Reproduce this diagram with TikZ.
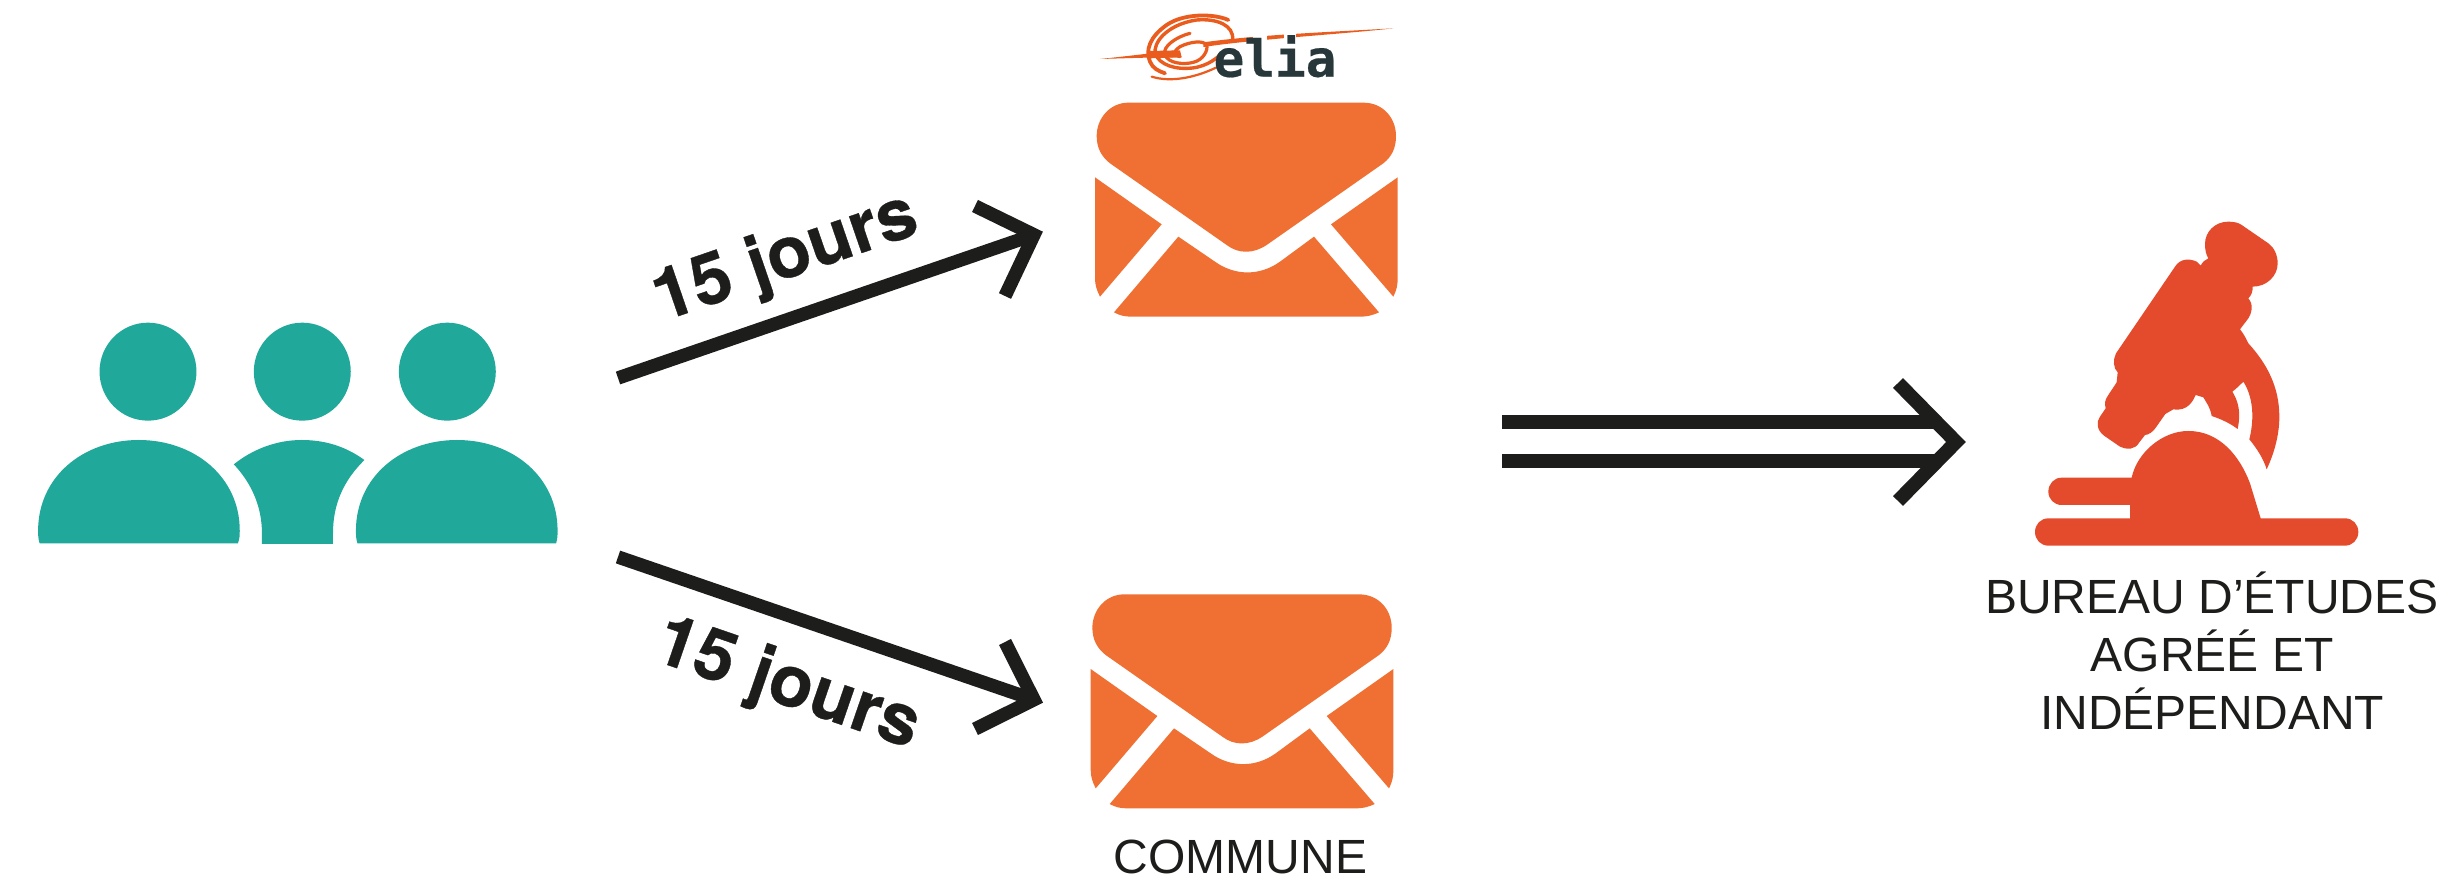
\documentclass[tikz,border=0pt]{standalone}
\usepackage{fontspec}
\setmainfont{Liberation Sans}
\newfontfamily\heavyfont[BoldFeatures={FakeBold=0.5}]{TeX Gyre Heros}
\newfontfamily\logofont[BoldFeatures={FakeBold=0.4}]{DejaVu Sans Mono}
\definecolor{teal1}{HTML}{20A99A}
\definecolor{envorange}{HTML}{F07033}
\definecolor{scopered}{HTML}{E44B2C}
\definecolor{inkblack}{HTML}{1D1D1B}
\definecolor{logodark}{HTML}{27373A}
\definecolor{logoorange}{HTML}{EA5B1E}
\newcommand{\envelopeicon}{%
  \fill[envorange] (235,308) -- (940,308) .. controls (1000,308) and (1038,355) .. (1038,408)
    .. controls (1038,445) and (1025,470) .. (1000,490) -- (650,735)
    .. controls (610,762) and (565,762) .. (530,735) -- (180,490)
    .. controls (155,470) and (140,445) .. (140,408) .. controls (140,355) and (180,308) .. (235,308) -- cycle;
  \fill[envorange] (135,532) -- (335,673) -- (150,890) .. controls (140,870) and (135,855) .. (135,835) -- cycle;
  \fill[envorange] (1043,532) -- (843,673) -- (1030,890) .. controls (1040,870) and (1043,855) .. (1043,835) -- cycle;
  \fill[envorange] (385,710) -- (495,785) .. controls (555,828) and (630,828) .. (690,785) -- (792,710)
    -- (987,937) .. controls (965,947) and (950,950) .. (930,950) -- (245,950)
    .. controls (225,950) and (210,947) .. (192,937) -- cycle;
}
\tikzset{
  shaft/.style={draw=inkblack,line width=6.7pt,line cap=butt,line join=miter},
  fatshaft/.style={draw=inkblack,line width=7pt,line cap=butt,line join=miter},
  bold label/.style={font=\heavyfont\fontsize{35.7}{40}\selectfont\bfseries,text=inkblack,anchor=base,inner sep=0pt},
  plain label/.style={font=\fontsize{24}{29}\selectfont,text=inkblack,anchor=base,inner sep=0pt},
  swirl/.style={draw=logoorange,line cap=round}
}
\begin{document}
\begin{tikzpicture}[x=0.5pt,y=-0.5pt]
\useasboundingbox (0,0) rectangle (2448,881);
\fill[white] (0,0) rectangle (2448,881);

% people
\begin{scope}[shift={(0,300)},xscale=0.37,yscale=1/3,fill=teal1]
  \fill (400,215) ellipse [x radius=131,y radius=147];
  \fill (817,215) ellipse [x radius=131,y radius=147];
  \fill (1209,215) ellipse [x radius=131,y radius=147];
  \fill (107,730) .. controls (103,715) and (103,705) .. (103,692)
    .. controls (103,530) and (225,420) .. (375,420)
    .. controls (525,420) and (648,530) .. (648,692)
    .. controls (648,705) and (648,715) .. (643,730) -- cycle;
  \fill (966,730) .. controls (962,715) and (962,705) .. (962,692)
    .. controls (962,530) and (1085,420) .. (1235,420)
    .. controls (1385,420) and (1507,530) .. (1507,692)
    .. controls (1507,705) and (1507,715) .. (1503,730) -- cycle;
  \fill (632,493) .. controls (680,550) and (708,620) .. (708,700) -- (708,732) -- (900,732) -- (900,700)
    .. controls (900,610) and (930,540) .. (985,480)
    .. controls (935,440) and (880,420) .. (815,420)
    .. controls (745,420) and (680,450) .. (632,493) -- cycle;
\end{scope}

% envelopes
\begin{scope}[shift={(1050,0)},scale=1/3]\envelopeicon\end{scope}
\begin{scope}[shift={(1045.7,491.7)},scale=1/3]\envelopeicon\end{scope}

% elia logo
\begin{scope}[shift={(1090,5)},scale=1/3]
  \fill[logoorange] (30,162) .. controls (100,155) and (180,145) .. (250,137) -- (250,157) .. controls (180,157) and (100,160) .. (30,162) -- cycle;
  \fill[logoorange] (340,112) .. controls (500,90) and (700,82) .. (910,70) .. controls (750,88) and (500,102) .. (340,126) -- cycle;
  \fill[white] (490,80) rectangle (530,118);
  \fill[white] (582,80) rectangle (618,118);
  \draw[swirl,line width=1.9pt] (415,45) .. controls (370,25) and (280,25) .. (230,60)
     .. controls (180,95) and (165,135) .. (180,170) .. controls (188,190) and (205,198) .. (225,205);
  \draw[swirl,line width=1.1pt] (185,215) .. controls (240,232) and (310,220) .. (378,188);
  \draw[swirl,line width=1.7pt] (428,105) .. controls (432,60) and (380,40) .. (320,45)
     .. controls (250,55) and (200,95) .. (195,135) .. controls (195,170) and (240,192) .. (290,190)
     .. controls (340,190) and (375,165) .. (392,148);
  \draw[swirl,line width=1.6pt] (300,85) .. controls (260,95) and (215,125) .. (225,150)
     .. controls (235,175) and (280,180) .. (310,172) .. controls (340,165) and (355,135) .. (350,120)
     .. controls (340,105) and (300,110) .. (270,125) .. controls (250,140) and (245,150) .. (270,155);
  \fill[logoorange] (175,138) -- (270,136) -- (275,157) -- (178,160) -- cycle;
  \node[font=\logofont\fontsize{25.5}{25}\selectfont\bfseries,text=logodark,anchor=base,inner sep=0pt] (elia) at (555,215) {elia};
\end{scope}

% microscope
\begin{scope}[shift={(1980,190)},scale=1/3]
  \fill[scopered] (685,205) .. controls (678,195) and (675,178) .. (675,162)
    .. controls (675,125) and (705,95) .. (745,95)
    .. controls (762,95) and (775,98) .. (785,105) -- (865,160)
    .. controls (882,172) and (893,195) .. (893,220) .. controls (893,258) and (860,290) .. (818,290)
    .. controls (818,305) and (815,315) .. (805,325)
    .. controls (822,345) and (815,370) .. (805,385) -- (780,418) .. controls (790,430) and (798,445) .. (805,460)
    .. controls (860,520) and (898,590) .. (898,680) .. controls (898,740) and (880,795) .. (860,838)
    .. controls (850,805) and (830,775) .. (808,748) .. controls (820,700) and (825,630) .. (790,575)
    .. controls (780,585) and (770,595) .. (757,605) .. controls (785,650) and (778,690) .. (773,717)
    .. controls (750,700) and (725,688) .. (695,678) .. controls (690,650) and (680,640) .. (670,622)
    -- (647,615) .. controls (640,630) and (625,665) .. (580,658) -- (556,672) -- (528,712)
    .. controls (520,725) and (505,735) .. (495,735) -- (478,757)
    .. controls (465,780) and (440,780) .. (420,770) -- (372,737)
    .. controls (350,720) and (348,695) .. (360,680) -- (377,655)
    .. controls (373,640) and (375,630) .. (383,618) -- (410,577) -- (413,547)
    .. controls (400,535) and (398,510) .. (408,490) -- (585,230)
    .. controls (600,205) and (630,205) .. (650,215) -- (662,227)
    .. controls (668,215) and (675,210) .. (685,205) -- cycle;
  \fill[scopered] (205,985) -- (450,985) -- (450,945) -- (245,945)
    .. controls (222,945) and (205,927) .. (205,905) .. controls (205,882) and (222,863) .. (245,863) -- (455,863)
    .. controls (470,790) and (545,723) .. (625,723) .. controls (720,723) and (780,800) .. (810,880)
    -- (842,985) -- (1095,985) .. controls (1118,985) and (1135,1003) .. (1135,1026)
    .. controls (1135,1049) and (1118,1067) .. (1095,1067) -- (205,1067)
    .. controls (182,1067) and (165,1049) .. (165,1026) .. controls (165,1003) and (182,985) .. (205,985) -- cycle;
\end{scope}

% connectors
\coordinate (upstart) at (618,378);
\coordinate (upvertex) at (1034,234.8);
\coordinate (uphead1) at (975,206);
\coordinate (uphead2) at (1005,296);
\coordinate (downstart) at (618,557);
\coordinate (downvertex) at (1034,699.7);
\coordinate (downhead1) at (1005,642);
\coordinate (downhead2) at (975,729);
\coordinate (dbl1start) at (1502,422);
\coordinate (dbl1end) at (1936,422);
\coordinate (dbl2start) at (1502,461);
\coordinate (dbl2end) at (1936,461);
\coordinate (dblvertex) at (1956,442);
\coordinate (dblhead1) at (1898,383);
\coordinate (dblhead2) at (1898,501);
\draw[shaft] (upstart) -- (upvertex);
\draw[shaft] (uphead1) -- (upvertex) -- (uphead2);
\draw[shaft] (downstart) -- (downvertex);
\draw[shaft] (downhead1) -- (downvertex) -- (downhead2);
\draw[fatshaft] (dbl1start) -- (dbl1end);
\draw[fatshaft] (dbl2start) -- (dbl2end);
\draw[fatshaft] (dblhead1) -- (dblvertex) -- (dblhead2);

% labels
\node[bold label,rotate=19] (up15) at (792,277) {15 jours};
\node[bold label,rotate=-19] (down15) at (781,704) {15 jours};
\node[plain label] (bureau) at (2212,614) {BUREAU D’ÉTUDES};
\node[plain label] (agree) at (2212,672) {AGRÉÉ ET};
\node[plain label] (indep) at (2212,730) {INDÉPENDANT};
\node[plain label] (commune) at (1240.5,873) {COMMUNE};
\end{tikzpicture}
\end{document}
